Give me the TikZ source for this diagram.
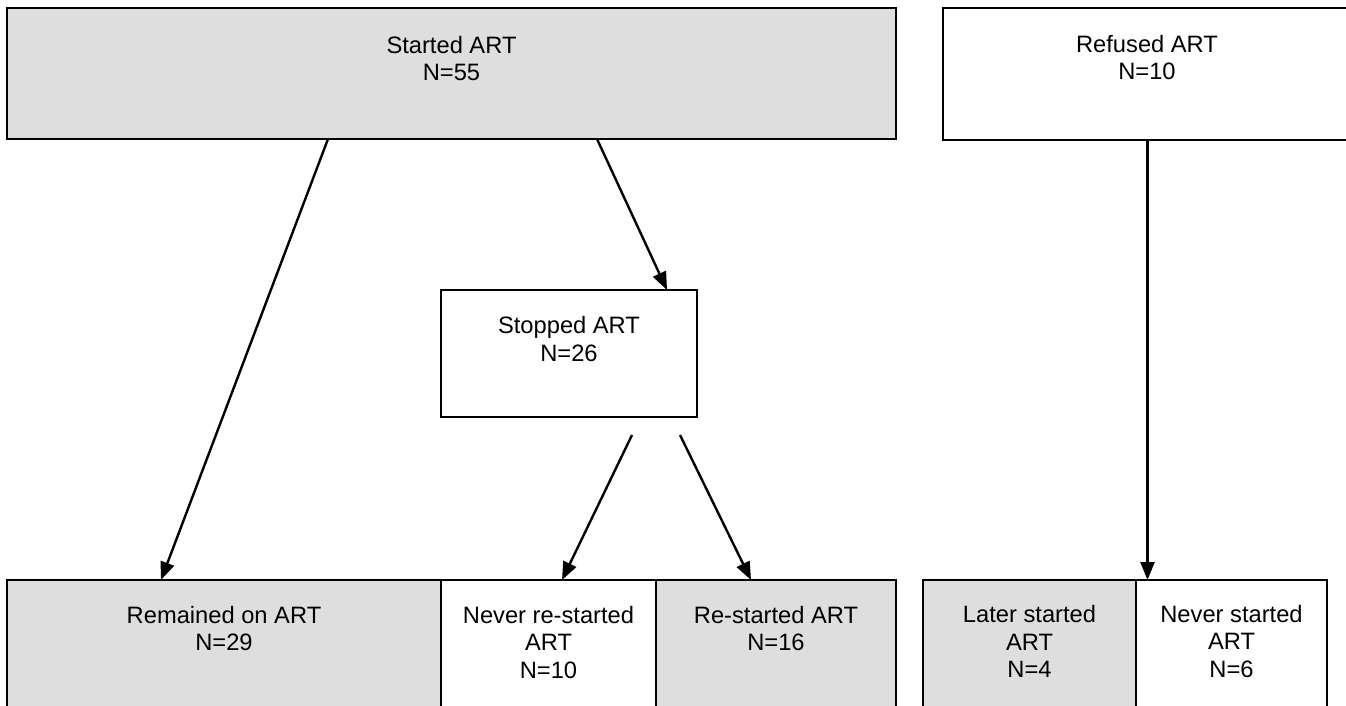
\documentclass[tikz,border=0pt]{standalone}
\usepackage{fontspec}
\setmainfont{Liberation Sans}
\usetikzlibrary{arrows.meta}
\definecolor{boxgray}{RGB}{222,222,222}

\tikzset{
  box/.style={draw=black, line width=2.5pt, rectangle, outer sep=0pt, inner sep=0pt},
  grey/.style={box, fill=boxgray},
  lbl/.style={align=center, inner sep=0pt, font=\fontsize{23.7pt}{27.5pt}\selectfont},
  arr/.style={line width=2.4pt, -{Triangle[length=18pt,width=14pt]}}
}

\begin{document}
\begin{tikzpicture}[x=1pt,y=-1pt]
                \useasboundingbox (0,0) rectangle (1346,705);
                \clip (0,0) rectangle (1346,705);
                % top row
                \node[grey, minimum width=889pt, minimum height=131pt] (start) at (451.5,73.5) {};
                \node[box,  minimum width=409pt, minimum height=132pt] (refused) at (1147.5,74) {};
                \node[box,  minimum width=256pt, minimum height=127pt] (stopped) at (569,353.5) {};
                % bottom row, cut off by the page edge
                \node[grey, minimum width=434pt, minimum height=140pt] (remain) at (224,650) {};
                \node[box,  minimum width=215pt, minimum height=140pt] (nevre) at (548.5,650) {};
                \node[grey, minimum width=240pt, minimum height=140pt] (restart) at (776,650) {};
                \node[grey, minimum width=213pt, minimum height=140pt] (later) at (1029.5,650) {};
                \node[box,  minimum width=191pt, minimum height=140pt] (never) at (1231.5,650) {};
                % texts
                \node[lbl] (start-t) at (451.5,58.5) {Started ART\\N=55};
                \node[lbl] (refused-t) at (1147,57.5) {Refused ART\\N=10};
                \node[lbl] (stopped-t) at (569,339) {Stopped ART\\N=26};
                \node[lbl] (remain-t) at (224,628.5) {Remained on ART\\N=29};
                \node[lbl] (nevre-t) at (548.5,642.5) {Never re-started\\ART\\N=10};
                \node[lbl] (restart-t) at (776,628.5) {Re-started ART\\N=16};
                \node[lbl] (later-t) at (1029.5,641.5) {Later started\\ART\\N=4};
                \node[lbl] (never-t) at (1231.5,641.5) {Never started\\ART\\N=6};
                % connectors
                \draw[arr] ([xshift=-123.5pt]start.south) -- ([xshift=-63pt]remain.north);
                \draw[arr] ([xshift=145.5pt]start.south) -- ([xshift=98pt]stopped.north);
                \draw[arr] ([xshift=63pt,yshift=-18pt]stopped.south) -- ([xshift=13.5pt]nevre.north);
                \draw[arr] ([xshift=111pt,yshift=-18pt]stopped.south) -- ([xshift=-25pt]restart.north);
                \draw[arr] (refused.south) -- (refused.south |- never.north);
            \end{tikzpicture}
\end{document}
